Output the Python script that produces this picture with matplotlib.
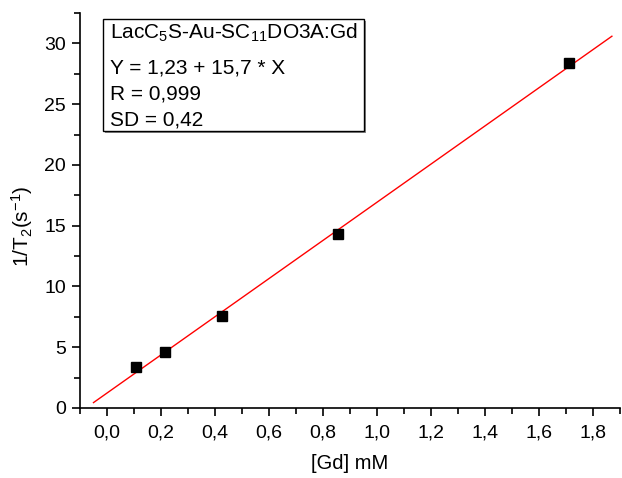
import numpy as np
import matplotlib.pyplot as plt
from matplotlib.patches import Rectangle
from matplotlib.ticker import MultipleLocator, FuncFormatter

# measured points
gd_mM = [0.107, 0.213, 0.426, 0.856, 1.712]
inv_t2 = [3.38, 4.61, 7.6, 14.3, 28.4]

# linear fit reported in the box
intercept = 1.23
slope = 15.7
fit_range = [-0.05, 1.87]

box_lines = [r"LacC$_{\mathregular{5}}$S-Au-SC$_{\mathregular{11}}$DO3A:Gd",
             "Y = 1,23 + 15,7 * X",
             "R = 0,999",
             "SD = 0,42"]

plt.rcParams['font.family'] = ['Liberation Sans', 'DejaVu Sans']
plt.rcParams['mathtext.fontset'] = 'custom'
plt.rcParams['mathtext.rm'] = 'Liberation Sans'
plt.rcParams['mathtext.it'] = 'Liberation Sans'

W, H = 622, 478
fig = plt.figure(figsize=(W / 100, H / 100), dpi=100)
ax = fig.add_axes([80 / W, 1 - 408 / H, 540 / W, (408 - 13) / H])

xf = np.array(fit_range)
ax.plot(xf, intercept + slope * xf, color='red', lw=1.0, zorder=2)
ax.plot(gd_mM, inv_t2, 's', color='black', ms=7, zorder=3)

ax.set_xlim(-0.1, 1.9)
ax.set_ylim(0, 32.5)
ax.spines['top'].set_visible(False)
ax.spines['right'].set_visible(False)
for s in ('left', 'bottom'):
    ax.spines[s].set_linewidth(1.2)

ax.xaxis.set_major_locator(MultipleLocator(0.2))
ax.xaxis.set_minor_locator(MultipleLocator(0.1))
ax.yaxis.set_major_locator(MultipleLocator(5))
ax.yaxis.set_minor_locator(MultipleLocator(2.5))
ax.xaxis.set_major_formatter(FuncFormatter(lambda v, p: ("%.1f" % v).replace('.', ',').replace('-0,0', '0,0')))
ax.tick_params(which='major', direction='out', length=6, width=1.2, labelsize=14, pad=6)
ax.tick_params(which='minor', direction='out', length=4, width=1.2)
ax.tick_params(axis='y', pad=4)

ax.set_xlabel("[Gd] mM", fontsize=14.5, labelpad=9)
ax.set_ylabel(r"1/T$_{\mathregular{2}}$(s$^{\mathregular{-1}}$)", fontsize=15)
ax.yaxis.set_label_coords(-0.083, 0.46)

# legend box with shadow
x0, y0, x1, y1 = 103, 19, 364, 131
fig.patches.append(Rectangle(((x0 + 2) / W, 1 - (y1 + 2) / H), (x1 - x0) / W, (y1 - y0) / H,
                             transform=fig.transFigure, facecolor='#888888', edgecolor='none', zorder=4))
fig.patches.append(Rectangle((x0 / W, 1 - y1 / H), (x1 - x0) / W, (y1 - y0) / H,
                             transform=fig.transFigure, facecolor='white', edgecolor='black', lw=1.0, zorder=5))
line_y = [33, 68, 94, 120]
for t, yy in zip(box_lines, line_y):
    fig.text(110 / W, 1 - yy / H, t, fontsize=15, va='center', ha='left', zorder=6)

fig.savefig("out.png", dpi=100)
